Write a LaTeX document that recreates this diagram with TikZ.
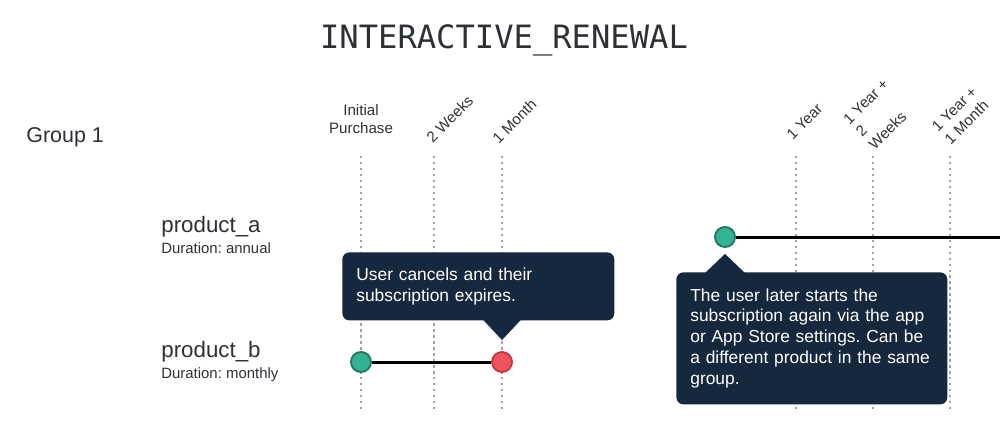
\documentclass[tikz,border=0pt]{standalone}
\usepackage{fontspec}
\setmainfont{Liberation Sans}
\newfontfamily\titlefont{DejaVu Sans Mono}
\usetikzlibrary{positioning, calc}
\frenchspacing
\definecolor{tipnavy}{HTML}{15283E}
\definecolor{inkgray}{HTML}{2D3035}
\definecolor{guidegray}{HTML}{A3A3A3}
\definecolor{startgreen}{HTML}{33B393}
\definecolor{startedge}{HTML}{237A62}
\definecolor{stopred}{HTML}{F0525C}
\definecolor{stopedge}{HTML}{C23A44}
\tikzset{
    titletext/.style={
        inner sep=0pt,
        anchor=base,
        text=inkgray,
        font=\titlefont\fontsize{18.3}{22}\selectfont
    },
    grouptext/.style={inner sep=0pt, anchor=base west, text=inkgray, font=\fontsize{12.2}{14}\selectfont},
    prodname/.style={inner sep=0pt, anchor=base west, text=inkgray, font=\fontsize{12.7}{15}\selectfont},
    prodnote/.style={inner sep=0pt, anchor=base west, text=inkgray, font=\fontsize{8.5}{10}\selectfont},
    ticktext/.style={inner sep=0pt, align=left, text=inkgray, font=\fontsize{8.6}{10.2}\selectfont},
    guide/.style={guidegray, line width=0.6pt, dash pattern=on 1.4pt off 2pt},
    startdot/.style={circle, draw=startedge, fill=startgreen, line width=1.1pt, minimum size=0.40cm, inner sep=0pt},
    stopdot/.style={circle, draw=stopedge, fill=stopred, line width=1.1pt, minimum size=0.40cm, inner sep=0pt},
    runline/.style={line width=1.7pt, black},
    tipbox/.style={
        fill=tipnavy,
        rounded corners=4pt,
        text=white,
        align=left,
        anchor=north west,
        inner xsep=0.28cm,
        inner ysep=0pt,
        font=\fontsize{9.9}{11.9}\selectfont
    }
}

\begin{document}
\begin{tikzpicture}[
    x=0.02cm,
    y=-0.02cm
]

\useasboundingbox (0,0) rectangle (1000,430);

\node[titletext] (title) at (504,48) {INTERACTIVE\_RENEWAL};

\node[grouptext] (grp) at (26,142) {Group 1};

\node[prodname] (pa) at (161,232) {product\_a};
\node[prodnote] (panote) at (161,253) {Duration: annual};
\node[prodname] (pb) at (161,357) {product\_b};
\node[prodnote] (pbnote) at (161,378) {Duration: monthly};

\node[ticktext, align=center, anchor=south] (t0) at (361,134) {Initial\\Purchase};
\node[ticktext, rotate=45, anchor=south west] (t1) at (433,144) {2 Weeks};
\node[ticktext, rotate=45, anchor=south west] (t2) at (499,145) {1 Month};
\node[ticktext, rotate=45, anchor=south west] (t3) at (793,141) {1 Year};
\node[ticktext, rotate=45, anchor=south west] (t4) at (875,151) {1 Year +\\2\\Weeks};
\node[ticktext, rotate=45, anchor=south west] (t5) at (951,146) {1 Year +\\1 Month};

\foreach \x in {361, 434, 502, 796, 873, 950}
    \draw[guide] (\x,156) -- (\x,410);

\node[startdot] (a1) at (725,237) {};
\coordinate (aend) at (1000,237);
\draw[runline] (a1) -- (aend);

\node[startdot] (b1) at (361,362) {};
\node[stopdot] (b2) at (502,362) {};
\draw[runline] (b1) -- (b2);

\node[tipbox, text width=4.88cm, minimum height=1.36cm] (tip1) at (342,252)
{User cancels and their\\subscription expires.};
\fill[tipnavy] ($(b2.north)+(0,-11)$) -- ($(tip1.south -| b2)+(-19,-1)$) -- ($(tip1.south -| b2)+(19,-1)$) -- cycle;

\node[tipbox, text width=4.86cm, minimum height=2.64cm] (tip2) at (676,272)
{The user later starts the\\subscription again via the app\\or App Store settings. Can be\\a different product in the same\\group.};
\fill[tipnavy] ($(a1.south)+(0,6)$) -- ($(tip2.north -| a1)+(-20,1)$) -- ($(tip2.north -| a1)+(20,1)$) -- cycle;

\end{tikzpicture}
\end{document}
